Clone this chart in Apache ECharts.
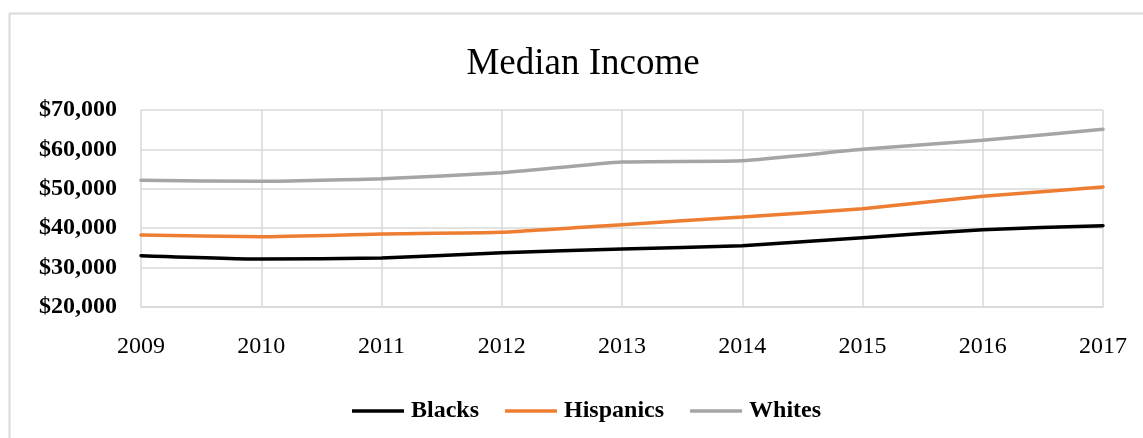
<!DOCTYPE html>
<html>
<head>
<meta charset="utf-8">
<title>Median Income</title>
<script src="https://cdn.jsdelivr.net/npm/echarts@6/dist/echarts.min.js"></script>
<style>
  html, body { margin: 0; padding: 0; background: #fff; }
  #chart { width: 1143px; height: 438px; }
</style>
</head>
<body>
<div id="chart"></div>
<script>
// Median household income by group, 2009–2017 (USD)
const years = ['2009', '2010', '2011', '2012', '2013', '2014', '2015', '2016', '2017'];
const blacks = [33030, 32180, 32440, 33790, 34720, 35570, 37600, 39630, 40640];
const hispanics = [38270, 37850, 38530, 38950, 40900, 42840, 44960, 48100, 50460];
const whites = [52160, 51900, 52560, 54090, 56800, 57130, 60020, 62300, 65100];

const serif = '"Liberation Serif", "Times New Roman", serif';

function money(v) {
  return '$' + v.toLocaleString('en-US');
}

function lineSeries(name, data, color) {
  return {
    name: name,
    type: 'line',
    data: data,
    symbol: 'none',
    smooth: 0.15,
    lineStyle: { color: color, width: 3.5, cap: 'round' },
    itemStyle: { color: color }
  };
}

const chart = echarts.init(document.getElementById('chart'), null, { renderer: 'canvas' });
chart.setOption({
  animation: false,
  backgroundColor: '#fff',
  graphic: [{
    type: 'rect',
    silent: true,
    shape: { x: 9.5, y: 13.5, width: 1300, height: 600 },
    style: { fill: 'none', stroke: '#d9d9d9', lineWidth: 2 }
  }],
  title: {
    text: 'Median Income',
    left: 578,
    top: 41,
    textAlign: 'center',
    textStyle: { fontFamily: serif, fontSize: 37, fontWeight: 'normal', color: '#000' }
  },
  legend: {
    top: 394,
    left: 347,
    icon: 'rect',
    itemWidth: 52,
    itemHeight: 3.5,
    itemGap: 26,
    textStyle: { fontFamily: serif, fontSize: 24, fontWeight: 'bold', color: '#000', padding: [0, 0, 0, 2] },
    data: ['Blacks', 'Hispanics', 'Whites']
  },
  grid: { left: 141, right: 40, top: 110, bottom: 131 },
  xAxis: {
    type: 'category',
    data: years,
    boundaryGap: false,
    axisLine: { show: true, lineStyle: { color: '#d9d9d9', width: 1.5 } },
    axisTick: { show: false },
    axisLabel: { fontFamily: serif, fontSize: 24, color: '#000', margin: 28 },
    splitLine: { show: true, lineStyle: { color: '#d9d9d9', width: 1.5 } }
  },
  yAxis: {
    type: 'value',
    min: 20000,
    max: 70000,
    interval: 10000,
    axisLine: { show: false },
    axisTick: { show: false },
    axisLabel: {
      fontFamily: serif, fontSize: 24, fontWeight: 'bold', color: '#000', margin: 24,
      formatter: money
    },
    splitLine: { show: true, lineStyle: { color: '#d9d9d9', width: 1.5 } }
  },
  series: [
    lineSeries('Blacks', blacks, '#000000'),
    lineSeries('Hispanics', hispanics, '#ED7D31'),
    lineSeries('Whites', whites, '#A5A5A5')
  ]
});
</script>
</body>
</html>
